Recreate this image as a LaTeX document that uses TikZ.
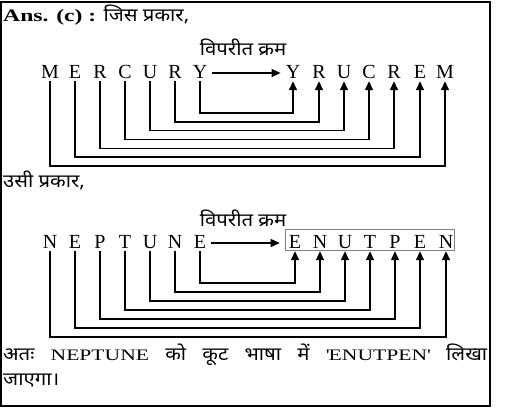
\documentclass[tikz,border=0pt]{standalone}
\usepackage{fontspec}
\setmainfont{Liberation Serif}
\newfontfamily\wideserif[FakeStretch=1.35]{Liberation Serif}
\newfontfamily\hindi[Script=Devanagari,FakeStretch=1.1]{Noto Sans}
\usetikzlibrary{arrows.meta}
\begin{document}
\begin{tikzpicture}[x=1pt,y=-1pt,
  letter/.style={font=\fontsize{20}{20}\selectfont, text height=13pt, text depth=0pt, inner xsep=0pt, inner ysep=3pt, anchor=base},
  conn/.style={line width=1.4pt, -{Triangle[length=9pt,width=8pt]}},
  txt/.style={font=\fontsize{16}{18}\selectfont\wideserif, inner sep=0pt, anchor=base west},
  htxt/.style={font=\fontsize{18.5}{20}\selectfont\hindi, inner sep=0pt},
  frame/.style={line width=1.2pt},
  codebox/.style={draw=gray, line width=0.8pt}
]
\useasboundingbox (0,0) rectangle (506,420);
\draw[frame] (1,2) rectangle (490,406);

% header
\node[txt] (ans) at (3,22) {{\fontsize{17.5}{20}\selectfont\bfseries Ans. (c) :} {\fontsize{18.5}{20}\selectfont\hindi जिस प्रकार,}};
\node[htxt, anchor=base] (rev1) at (243,56) {विपरीत क्रम};

% MERCURY
\foreach \ch/\x [count=\i] in {M/50,E/75,R/100,C/125,U/150,R/175,Y/200}
  \node[letter] (a\i) at (\x,78) {\ch};
\foreach \ch/\x [count=\i] in {Y/293,R/319,U/344,C/369,R/394,E/420,M/445}
  \node[letter] (b\i) at (\x,78) {\ch};
\draw[conn] ([xshift=5pt,yshift=-1.5pt]a7.east) -- ([xshift=-5pt,yshift=-1.5pt]b1.west);
\foreach \k in {1,...,7}{
  \pgfmathtruncatemacro\j{8-\k}
  \pgfmathsetmacro\lev{113+(\k-1)*8.83}
  \draw[conn] (a\j.south) -- (a\j.south |- 0,\lev) -| (b\k.south);
}

% second part
\node[htxt, anchor=base west] (usi) at (3,187) {उसी प्रकार,};
\node[htxt, anchor=base] (rev2) at (243,226) {विपरीत क्रम};

\foreach \ch/\x [count=\i] in {N/50,E/75,P/100,T/125,U/150,N/175,E/200}
  \node[letter] (c\i) at (\x,248) {\ch};
\foreach \ch/\x [count=\i] in {E/295,N/320,U/345,T/370,P/395,E/420,N/446}
  \node[letter] (d\i) at (\x,248) {\ch};
\draw[codebox] (285,229) rectangle (454,250);
\draw[conn] ([xshift=5pt,yshift=-1.5pt]c7.east) -- ([xshift=-9pt,yshift=-1.5pt]d1.west);
\foreach \k in {1,...,7}{
  \pgfmathtruncatemacro\j{8-\k}
  \pgfmathsetmacro\lev{283+(\k-1)*9}
  \draw[conn] (c\j.south) -- (c\j.south |- 0,\lev) -| (d\k.south);
}

% conclusion
\node[txt] (concl) at (3,360) {\makebox[484pt][s]{{\fontsize{18.5}{20}\selectfont\hindi अतः}\hfill NEPTUNE\hfill {\fontsize{18.5}{20}\selectfont\hindi को}\hfill {\fontsize{18.5}{20}\selectfont\hindi कूट}\hfill {\fontsize{18.5}{20}\selectfont\hindi भाषा}\hfill {\fontsize{18.5}{20}\selectfont\hindi में}\hfill \textquotesingle ENUTPEN\textquotesingle\hfill {\fontsize{18.5}{20}\selectfont\hindi लिखा}}};
\node[htxt, anchor=base west] (concl2) at (3,385) {जाएगा।};
\end{tikzpicture}
\end{document}
